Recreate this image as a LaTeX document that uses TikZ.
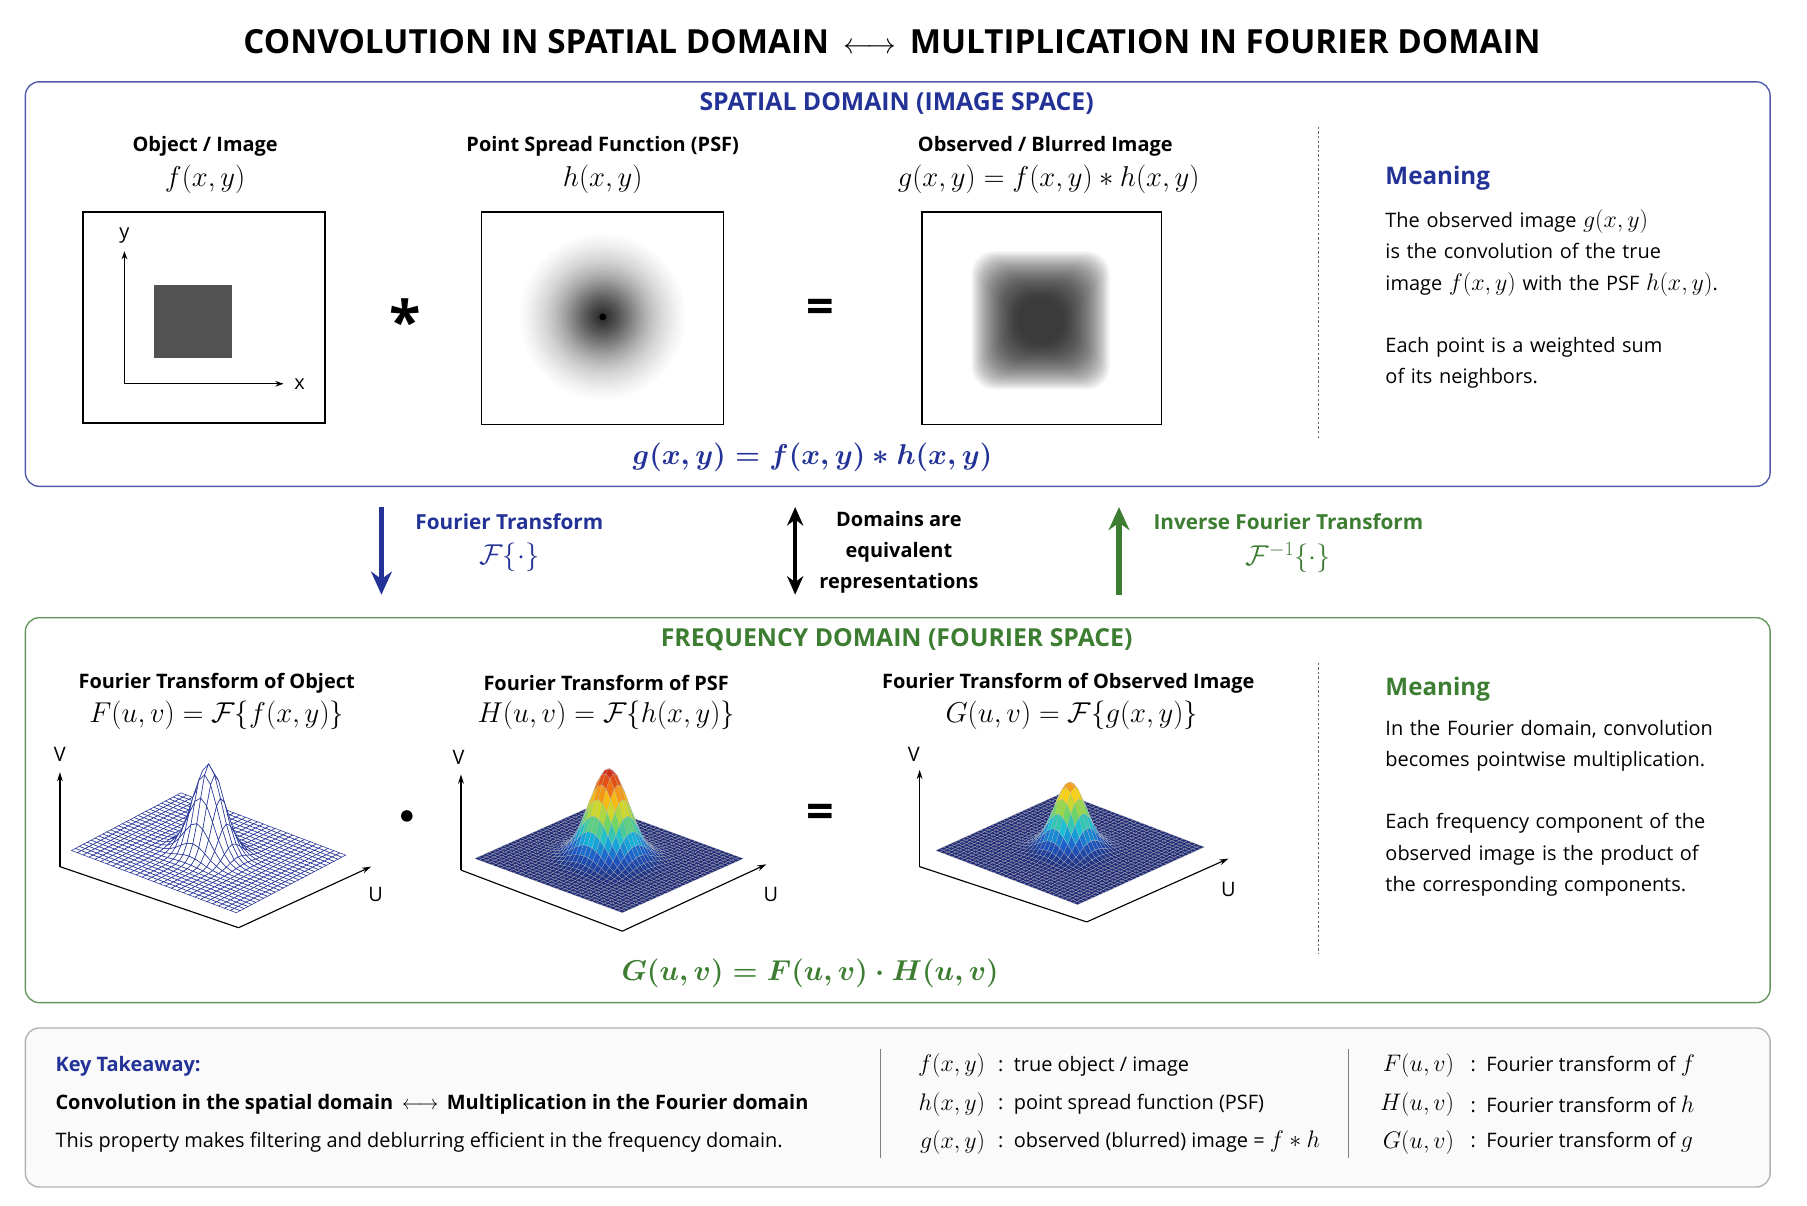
\documentclass[tikz,border=0pt]{standalone}
\usepackage{fontspec}
\setmainfont{Open Sans}
\usepackage{amsmath}
\usepackage{pgfplots}
\pgfplotsset{compat=1.18}
\usetikzlibrary{arrows.meta}
\definecolor{dblue}{RGB}{35,50,150}
\definecolor{dgreen}{RGB}{60,125,50}
\pgfplotsset{colormap={myjet}{rgb255=(35,45,120) rgb255=(30,90,200) rgb255=(20,190,220) rgb255=(120,215,90) rgb255=(250,215,20) rgb255=(240,110,20) rgb255=(200,25,25)},
  colormap={wht}{color=(white) color=(white)}}
\pgfplotsset{srf/.style={hide axis, anchor=origin, xmin=-1,xmax=1,ymin=-1,ymax=1,zmin=0,zmax=1,
  domain=-1:1, y domain=-1:1, clip=false}}
\newcommand\mx[1]{{\fontsize{21}{20}\selectfont$#1$}}
\begin{document}
\begin{tikzpicture}[x=1pt,y=1pt,
  txt/.style={font=\fontsize{17.3}{20}\selectfont, inner sep=0},
  lbl/.style={font=\fontsize{17.3}{20}\selectfont\bfseries, inner sep=0},
  mth/.style={font=\fontsize{24}{28}\selectfont, inner sep=0},
  hdr/.style={font=\fontsize{21.5}{25}\selectfont\bfseries, inner sep=0},
  imgbox/.style={draw=black, line width=1pt},
  ax/.style={line width=1pt,-{Stealth[length=8pt,width=5pt]}},
  frm/.style={line width=1pt},
  para/.style={txt, align=left, anchor=north west, text width=330pt, font=\fontsize{17.3}{27}\selectfont}]
\useasboundingbox (0,0) rectangle (1568,-1046);
% title
\node[font=\fontsize{28.8}{34}\selectfont\bfseries, inner sep=0] (title) at (774,-36) {CONVOLUTION IN SPATIAL DOMAIN \,$\longleftrightarrow$\, MULTIPLICATION IN FOURIER DOMAIN};
% spatial box
\draw[dblue!80, line width=1.2pt, rounded corners=12pt] (22,-71) rectangle (1536,-422);
\node[hdr, text=dblue] (sh) at (778,-90) {SPATIAL DOMAIN (IMAGE SPACE)};
\node[lbl] (l1) at (178,-127) {Object / Image};
\node[mth] (m1) at (178,-156) {$f(x,y)$};
\node[lbl] (l2) at (523,-127) {Point Spread Function (PSF)};
\node[mth] (m2) at (523,-156) {$h(x,y)$};
\node[lbl] (l3) at (907,-127) {Observed / Blurred Image};
\node[mth] (m3) at (910,-156) {$g(x,y)=f(x,y)*h(x,y)$};
% box1
\draw[imgbox] (72,-184) rectangle (282,-367);
\fill[black!68] (134,-247) rectangle (201,-311);
\coordinate (o1) at (108,-333);
\coordinate (y1) at (108,-218);
\coordinate (x1) at (246,-333);
\draw[line width=1pt,-{Stealth[length=7pt,width=5pt]}] (o1) -- (y1);
\draw[line width=1pt,-{Stealth[length=7pt,width=5pt]}] (o1) -- (x1);
\node[txt] (yl) at (108,-204) {y};
\node[txt] (xl) at (260,-333) {x};
\node[font=\fontsize{50}{50}\selectfont\bfseries, inner sep=0] (star) at (352,-278) {*};
% box2
\foreach \r in {72,70,...,2} {\pgfmathsetmacro\op{0.012+0.11*(1-\r/72)^2}
  \fill[black, opacity=\op] (523,-275) circle (\r);}
\fill[black] (523,-275) circle (3);
\draw[imgbox] (418,-184) rectangle (628,-368);
\node[font=\fontsize{42}{42}\selectfont\bfseries, inner sep=0] (eq1) at (712,-270) {=};
% box3
\foreach \s in {60,59,...,20} {\fill[black, opacity=0.036, rounded corners=20pt] (903-\s,-278+\s) rectangle (903+\s,-278-\s);}
\draw[imgbox] (800,-184) rectangle (1008,-368);
\node[mth, text=dblue] (f1) at (705,-397) {$\boldsymbol{g(x,y)=f(x,y)*h(x,y)}$};
\draw[black!60, line width=0.8pt, dash pattern=on 2pt off 2pt] (1144,-110) -- (1144,-380);
\node[font=\fontsize{21}{25}\selectfont\bfseries, text=dblue, anchor=west, inner sep=0] (mean1) at (1202,-155) {Meaning};
\node[para] (p1) at (1202,-182) {The observed image \mx{g(x,y)}\\is the convolution of the true\\image \mx{f(x,y)} with the PSF \mx{h(x,y)}.\\[27pt]Each point is a weighted sum\\of its neighbors.};
% middle
\coordinate (a1s) at (331,-440); \coordinate (a1e) at (331,-516);
\draw[dblue, line width=5pt, -{Stealth[length=20pt,width=18pt]}] (a1s) -- (a1e);
\node[lbl, text=dblue, font=\fontsize{18}{21}\selectfont\bfseries] (ft) at (442,-453) {Fourier Transform};
\node[mth, text=dblue] (ftm) at (442,-484) {$\mathcal{F}\{\cdot\}$};
\coordinate (a2s) at (690,-440); \coordinate (a2e) at (690,-516);
\draw[black, line width=3pt, {Stealth[length=16pt,width=14pt]}-{Stealth[length=16pt,width=14pt]}] (a2s) -- (a2e);
\node[lbl, align=center, font=\fontsize{17.3}{27}\selectfont\bfseries] (dom) at (780,-479) {Domains are\\equivalent\\representations};
\coordinate (a3s) at (971,-516); \coordinate (a3e) at (971,-440);
\draw[dgreen, line width=5pt, -{Stealth[length=20pt,width=18pt]}] (a3s) -- (a3e);
\node[lbl, text=dgreen, font=\fontsize{18}{21}\selectfont\bfseries] (ift) at (1118,-453) {Inverse Fourier Transform};
\node[mth, text=dgreen] (iftm) at (1118,-484) {$\mathcal{F}^{-1}\{\cdot\}$};
% frequency box
\draw[dgreen!80, line width=1.2pt, rounded corners=12pt] (22,-536) rectangle (1536,-870);
\node[hdr, text=dgreen] (fh) at (778,-555) {FREQUENCY DOMAIN (FOURIER SPACE)};
\node[lbl] (k1) at (188,-593) {Fourier Transform of Object};
\node[mth] (n1) at (188,-621) {$F(u,v)=\mathcal{F}\{f(x,y)\}$};
\node[lbl] (k2) at (526,-593) {Fourier Transform of PSF};
\node[mth] (n2) at (526,-621) {$H(u,v)=\mathcal{F}\{h(x,y)\}$};
\node[lbl] (k3) at (927,-593) {Fourier Transform of Observed Image};
\node[mth] (n3) at (930,-621) {$G(u,v)=\mathcal{F}\{g(x,y)\}$};
% plot 1
\begin{axis}[srf, at={(181pt,-740pt)},
  x={(71.5pt,-27pt)}, y={(47.5pt,25pt)}, z={(0pt,77pt)},
  colormap name=wht]
\addplot3[surf, samples=29, z buffer=sort, faceted color=dblue, line width=0.45pt] {exp(-(x^2+y^2)/0.05)};
\end{axis}
\coordinate (p1o) at (52,-752); \coordinate (p1v) at (52,-670); \coordinate (p1f) at (207,-805); \coordinate (p1u) at (322,-752);
\draw[ax] (p1o) -- (p1v); \draw[frm] (p1o) -- (p1f); \draw[ax] (p1f) -- (p1u);
\node[txt] (v1) at (52,-655) {V}; \node[txt] (u1) at (326,-776) {U};
\fill[black] (353,-708) circle (5);
\coordinate (dot) at (353,-708);
% plot 2
\begin{axis}[srf, at={(528.5pt,-745pt)},
  x={(64pt,-23.5pt)}, y={(52.5pt,23.5pt)}, z={(0pt,78pt)},
  colormap name=myjet, point meta min=0, point meta max=1]
\addplot3[surf, shader=faceted, samples=35, z buffer=sort, faceted color=black!25, line width=0.1pt] {exp(-(x^2+y^2)/0.09)};
\end{axis}
\coordinate (p2o) at (400,-755); \coordinate (p2v) at (400,-672); \coordinate (p2f) at (540,-808); \coordinate (p2u) at (665,-750);
\draw[ax] (p2o) -- (p2v); \draw[frm] (p2o) -- (p2f); \draw[ax] (p2f) -- (p2u);
\node[txt] (v2) at (398,-657) {V}; \node[txt] (u2) at (669,-776) {U};
\node[font=\fontsize{42}{42}\selectfont\bfseries, inner sep=0] (eq2) at (712,-708) {=};
% plot 3
\begin{axis}[srf, at={(928.5pt,-736.5pt)},
  x={(61.5pt,-23.5pt)}, y={(55pt,25pt)}, z={(0pt,58pt)},
  colormap name=myjet, point meta min=0, point meta max=1.25]
\addplot3[surf, shader=faceted, samples=35, z buffer=sort, faceted color=black!25, line width=0.1pt] {exp(-(x^2+y^2)/0.06)};
\end{axis}
\coordinate (p3o) at (798,-752); \coordinate (p3v) at (798,-668); \coordinate (p3f) at (943,-800); \coordinate (p3u) at (1066,-745);
\draw[ax] (p3o) -- (p3v); \draw[frm] (p3o) -- (p3f); \draw[ax] (p3f) -- (p3u);
\node[txt] (v3) at (793,-655) {V}; \node[txt] (u3) at (1066,-772) {U};
\node[mth, text=dgreen] (f2) at (703,-845) {$\boldsymbol{G(u,v)=F(u,v)\cdot H(u,v)}$};
\draw[black!60, line width=0.8pt, dash pattern=on 2pt off 2pt] (1144,-575) -- (1144,-828);
\node[font=\fontsize{21}{25}\selectfont\bfseries, text=dgreen, anchor=west, inner sep=0] (mean2) at (1202,-598) {Meaning};
\node[para] (p2) at (1202,-625) {In the Fourier domain, convolution\\becomes pointwise multiplication.\\[27pt]Each frequency component of the\\observed image is the product of\\the corresponding components.};
% bottom box
\draw[black!30, fill=black!2, line width=1.2pt, rounded corners=12pt] (22,-892) rectangle (1536,-1030);
\node[lbl, text=dblue, anchor=west] (kt) at (48,-925) {Key Takeaway:};
\node[lbl, anchor=west] (kb) at (48,-958) {Convolution in the spatial domain \,$\longleftrightarrow$\, Multiplication in the Fourier domain};
\node[txt, anchor=west] (kc) at (48,-991) {This property makes filtering and deblurring efficient in the frequency domain.};
\draw[black!50, line width=0.8pt] (764,-910) -- (764,-1005);
\draw[black!50, line width=0.8pt] (1170,-910) -- (1170,-1005);
\foreach \m/\t/\y [count=\i] in {{$f(x,y)$}/{true object / image}/925, {$h(x,y)$}/{point spread function (PSF)}/958, {$g(x,y)$}/{observed (blurred) image = \mx{f*h}}/991} {
  \node[mth, anchor=east, font=\fontsize{22}{26}\selectfont] (lm\i) at (855,-\y) {\m};
  \node[txt, anchor=west] (lt\i) at (866,-\y) {:\ \ \t};
}
\foreach \m/\t/\y [count=\i] in {{$F(u,v)$}/{Fourier transform of \mx{f}}/925, {$H(u,v)$}/{Fourier transform of \mx{h}}/958, {$G(u,v)$}/{Fourier transform of \mx{g}}/991} {
  \node[mth, anchor=east, font=\fontsize{22}{26}\selectfont] (rm\i) at (1262,-\y) {\m};
  \node[txt, anchor=west] (rt\i) at (1276,-\y) {:\ \ \t};
}
\end{tikzpicture}
\end{document}
